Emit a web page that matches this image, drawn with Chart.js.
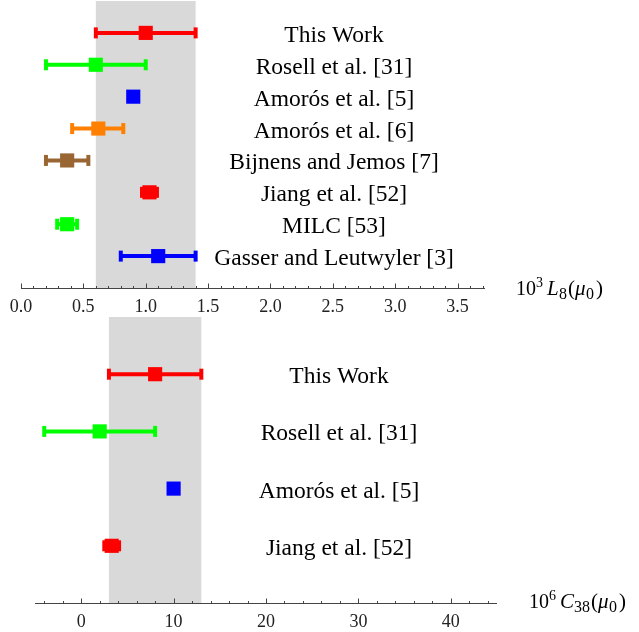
<!DOCTYPE html>
<html>
<head>
<meta charset="utf-8">
<script src="https://cdn.jsdelivr.net/npm/chart.js@4.4.0/dist/chart.umd.min.js"></script>
<style>
  body { margin: 0; background: #fff; }
  canvas { display: block; }
</style>
</head>
<body>
<canvas id="l8Chart" width="639" height="316"></canvas>
<canvas id="c38Chart" width="639" height="316"></canvas>
<script>
// ---- top panel: 10^3 L8(mu0) ----
const l8Labels = ['This Work', 'Rosell et al. [31]', 'Amorós et al. [5]', 'Amorós et al. [6]',
  'Bijnens and Jemos [7]', 'Jiang et al. [52]', 'MILC [53]', 'Gasser and Leutwyler [3]'];
const l8Values = [1.0, 0.6, 0.9, 0.62, 0.37, 1.03, 0.37, 1.1];
const l8Low = [0.6, 0.2, null, 0.41, 0.2, 0.97, 0.29, 0.8];
const l8High = [1.4, 1.0, null, 0.82, 0.54, 1.09, 0.45, 1.4];
const l8Colors = ['#ff0000', '#00ff00', '#0000ff', '#ff8000', '#996633', '#ff0000', '#00ff00', '#0000ff'];
const l8Band = [0.6, 1.4];
const l8Ticks = [0, 0.5, 1.0, 1.5, 2.0, 2.5, 3.0, 3.5];

// ---- bottom panel: 10^6 C38(mu0) ----
const c38Labels = ['This Work', 'Rosell et al. [31]', 'Amorós et al. [5]', 'Jiang et al. [52]'];
const c38Values = [8, 2, 10, 3.3];
const c38Low = [3, -4, null, 2.5];
const c38High = [13, 8, null, 4.1];
const c38Colors = ['#ff0000', '#00ff00', '#0000ff', '#ff0000'];
const c38Band = [3, 13];
const c38Ticks = [0, 10, 20, 30, 40];

const SERIF = '"Liberation Serif", "DejaVu Serif", serif';

// band, axis with inward ticks, row labels and axis title
const panelPlugin = {
  id: 'panel',
  beforeDatasetsDraw(chart, args, o) {
    const { ctx, chartArea: a, scales: { x } } = chart;
    const x0 = x.getPixelForValue(o.band[0]);
    const x1 = x.getPixelForValue(o.band[1]);
    ctx.save();
    ctx.fillStyle = '#d9d9d9';
    ctx.fillRect(x0, a.top, x1 - x0, a.bottom - a.top);
    ctx.restore();
  },
  afterDraw(chart, args, o) {
    const { ctx, chartArea: a, scales: { x, y } } = chart;
    const yAxis = a.bottom + 0.5;
    ctx.save();
    ctx.strokeStyle = '#444';
    ctx.lineWidth = 1;
    ctx.beginPath();
    ctx.moveTo(a.left, yAxis);
    ctx.lineTo(a.right, yAxis);
    // minor + major ticks, pointing up
    for (let v = o.minorStart; v <= x.max + 1e-9; v += o.minorStep) {
      const px = Math.round(x.getPixelForValue(v)) + 0.5;
      const len = o.ticks.some(t => Math.abs(t - v) < 1e-6) ? 5 : 2.5;
      ctx.moveTo(px, yAxis);
      ctx.lineTo(px, yAxis - len);
    }
    ctx.stroke();

    ctx.fillStyle = '#222';
    ctx.font = '18px ' + SERIF;
    ctx.textAlign = 'center';
    ctx.textBaseline = 'alphabetic';
    o.ticks.forEach(t => ctx.fillText(o.fmt(t), x.getPixelForValue(t), yAxis + 23));

    ctx.fillStyle = '#000';
    ctx.font = '23.5px ' + SERIF;
    o.labels.forEach((lab, i) => ctx.fillText(lab, o.labelX, y.getPixelForValue(i + 1) + 9));

    // axis title, pieces placed at offsets from titleX
    ctx.textAlign = 'left';
    o.title.forEach(p => {
      ctx.font = (p.it ? 'italic ' : '') + p.size + 'px ' + SERIF;
      const dy = p.sup ? -8 : p.sub ? 4 : 0;
      ctx.fillText(p.t, o.titleX + p.dx, o.titleY + dy);
    });
    ctx.restore();
  }
};

function makePanel(id, labels, values, low, high, colors, band, ticks, opts) {
  const datasets = [{
    data: values.map((v, i) => ({ x: v, y: i + 1 })),
    pointStyle: 'rect',
    pointRadius: 10,
    pointHoverRadius: 10,
    backgroundColor: colors,
    borderWidth: 0
  }];
  values.forEach((v, i) => {
    if (low[i] === null) return;
    datasets.push({
      data: [{ x: low[i], y: i + 1 }, { x: high[i], y: i + 1 }],
      showLine: true,
      borderColor: colors[i],
      borderWidth: 4,
      pointStyle: 'line',
      rotation: 90,
      pointRadius: 5.5,
      pointBorderWidth: 4,
      pointBorderColor: colors[i]
    });
  });
  return new Chart(document.getElementById(id), {
    type: 'scatter',
    data: { datasets },
    options: {
      responsive: false,
      animation: false,
      events: [],
      layout: { padding: opts.padding, autoPadding: false },
      plugins: {
        legend: { display: false },
        tooltip: { enabled: false },
        panel: {
          band, ticks, labels,
          labelX: opts.labelX,
          minorStart: opts.minorStart,
          minorStep: opts.minorStep,
          fmt: opts.fmt,
          title: opts.title,
          titleX: opts.titleX,
          titleY: opts.titleY
        }
      },
      scales: {
        x: {
          type: 'linear',
          min: opts.min,
          max: opts.max,
          grid: { display: false },
          border: { display: false },
          ticks: { display: false },
          afterFit: s => { s.height = opts.axisHeight; }
        },
        y: {
          display: false,
          reverse: true,
          min: 0,
          max: labels.length + 1
        }
      }
    },
    plugins: [panelPlugin]
  });
}

makePanel('l8Chart', l8Labels, l8Values, l8Low, l8High, l8Colors, l8Band, l8Ticks, {
  min: 0, max: 3.72,
  padding: { left: 21, right: 154, top: 1, bottom: 0 },
  axisHeight: 28,
  labelX: 334,
  minorStart: 0, minorStep: 0.1,
  fmt: v => v.toFixed(1),
  title: [{ t: '10', dx: 0, size: 20 }, { t: '3', dx: 20, size: 14, sup: true },
    { t: 'L', dx: 31, size: 21, it: true }, { t: '8', dx: 43, size: 16, sub: true },
    { t: '(', dx: 52, size: 21 }, { t: 'μ', dx: 59, size: 21, it: true },
    { t: '0', dx: 70, size: 16, sub: true }, { t: ')', dx: 80, size: 21 }],
  titleX: 516, titleY: 295
});

makePanel('c38Chart', c38Labels, c38Values, c38Low, c38High, c38Colors, c38Band, c38Ticks, {
  min: -5, max: 45,
  padding: { left: 35, right: 142, top: 1, bottom: 0 },
  axisHeight: 29,
  labelX: 339,
  minorStart: -4, minorStep: 2,
  fmt: v => String(v),
  title: [{ t: '10', dx: 0, size: 20 }, { t: '6', dx: 20, size: 14, sup: true },
    { t: 'C', dx: 31, size: 21, it: true }, { t: '38', dx: 45, size: 16, sub: true },
    { t: '(', dx: 62, size: 21 }, { t: 'μ', dx: 69, size: 21, it: true },
    { t: '0', dx: 80, size: 16, sub: true }, { t: ')', dx: 90, size: 21 }],
  titleX: 529, titleY: 292
});
</script>
</body>
</html>
